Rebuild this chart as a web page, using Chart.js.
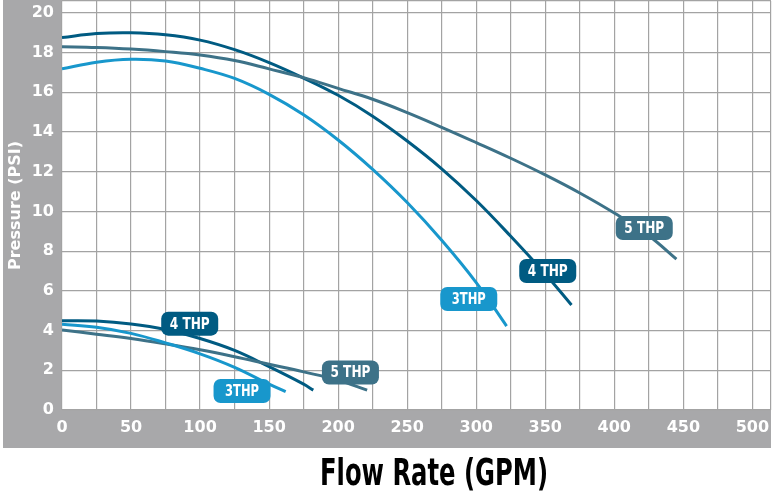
<!DOCTYPE html>
<html>
<head>
<meta charset="utf-8">
<script src="https://cdn.jsdelivr.net/npm/chart.js@4.4.1/dist/chart.umd.min.js"></script>
<style>
  html, body { margin: 0; padding: 0; background: #fff; }
  #wrap { width: 773px; height: 496px; }
</style>
</head>
<body>
<div id="wrap"><canvas id="pumpChart" width="773" height="496"></canvas></div>
<script>
// pump curves (flow in GPM, pressure in PSI)
const flow3High = [0, 25, 50, 75, 100, 125, 150, 175, 200, 225, 250, 275, 300, 322];
const psi3High  = [17.18, 17.52, 17.67, 17.58, 17.21, 16.7, 15.9, 14.87, 13.6, 12.12, 10.45, 8.55, 6.42, 4.23];

const flow4High = [0, 25, 50, 75, 100, 125, 150, 175, 200, 225, 250, 275, 300, 325, 350, 369];
const psi4High  = [18.76, 18.96, 19.0, 18.9, 18.63, 18.15, 17.5, 16.72, 15.85, 14.8, 13.55, 12.15, 10.55, 8.75, 6.85, 5.29];

const flow5High = [0, 25, 50, 75, 100, 125, 150, 175, 200, 225, 250, 275, 300, 325, 350, 375, 400, 425, 445];
const psi5High  = [18.3, 18.26, 18.18, 18.05, 17.88, 17.6, 17.18, 16.74, 16.2, 15.65, 14.98, 14.24, 13.47, 12.68, 11.84, 10.93, 9.92, 8.78, 7.6];

const flow3Low = [0, 25, 50, 75, 100, 125, 150, 162];
const psi3Low  = [4.32, 4.17, 3.86, 3.38, 2.83, 2.15, 1.3, 0.92];

const flow4Low = [0, 25, 50, 75, 100, 125, 150, 175, 182];
const psi4Low  = [4.5, 4.48, 4.33, 4.05, 3.6, 3.0, 2.18, 1.3, 1.0];

const flow5Low = [0, 25, 50, 75, 100, 125, 150, 175, 200, 221];
const psi5Low  = [4.03, 3.82, 3.6, 3.33, 3.03, 2.68, 2.3, 1.92, 1.5, 1.0];

// curve tags
const tagText = ['5 THP', '4 THP', '3THP', '4 THP', '3THP', '5 THP'];
const tagFlow = [421.7, 351.8, 294.6, 92.5, 130.4, 208.9];
const tagPsi  = [9.17, 7.0, 5.59, 4.35, 0.96, 1.89];

const flowTicks = [0, 50, 100, 150, 200, 250, 300, 350, 400, 450, 500];
const pressureTicks = [0, 2, 4, 6, 8, 10, 12, 14, 16, 18, 20];
const flowMax = 513.5;
const pressureMax = 20.6;

const c3 = '#1897cc';
const c4 = '#005b82';
const c5 = '#3d7288';
const band = '#a8a8aa';
const FONT = '"DejaVu Sans", sans-serif';

function pts(xs, ys) {
    return xs.map((x, i) => ({ x: x, y: ys[i] }));
}

function curve(label, xs, ys, color) {
    return {
        label: label,
        data: pts(xs, ys),
        borderColor: color,
        borderWidth: 3,
        pointRadius: 0,
        fill: false,
        tension: 0.4
    };
}

const tagColors = [c5, c4, c3, c4, c3, c5];

// squeeze text into a width, the picture uses a condensed face
function squeezeText(ctx, text, x, y, maxW) {
    const w = ctx.measureText(text).width;
    const k = w > maxW ? maxW / w : 1;
    ctx.save();
    ctx.translate(x, y);
    ctx.scale(k, 1);
    ctx.fillText(text, 0, 0);
    ctx.restore();
}

const bandsPlugin = {
    id: 'bands',
    beforeDraw(chart) {
        const ctx = chart.ctx;
        const a = chart.chartArea;
        ctx.save();
        ctx.fillStyle = band;
        ctx.fillRect(3, 0, a.left - 3, 448);
        ctx.fillRect(3, a.bottom, a.right - 3, 448 - a.bottom);
        ctx.restore();
    },
    afterDatasetsDraw(chart) {
        const ctx = chart.ctx;
        const xs = chart.scales.x, ys = chart.scales.y;
        ctx.save();
        ctx.font = 'condensed bold 15px ' + FONT;
        ctx.textAlign = 'center';
        ctx.textBaseline = 'middle';
        tagText.forEach((t, i) => {
            const cx = xs.getPixelForValue(tagFlow[i]);
            const cy = ys.getPixelForValue(tagPsi[i]);
            const w = 57, h = 24;
            ctx.fillStyle = tagColors[i];
            ctx.beginPath();
            ctx.roundRect(cx - w / 2, cy - h / 2, w, h, 7);
            ctx.fill();
            ctx.fillStyle = '#fff';
            squeezeText(ctx, t, cx, cy + 1, t.length > 4 ? 40 : 34);
        });
        ctx.restore();
    },
    afterDraw(chart) {
        const ctx = chart.ctx;
        ctx.save();
        ctx.fillStyle = '#000';
        ctx.font = 'condensed bold 38px ' + FONT;
        ctx.textAlign = 'center';
        ctx.textBaseline = 'alphabetic';
        squeezeText(ctx, 'Flow Rate (GPM)', 434, 485, 228);
        ctx.restore();
    }
};

let chart = new Chart(document.getElementById('pumpChart'), {
    type: 'line',
    data: {
        datasets: [
            curve('3 THP', flow3High, psi3High, c3),
            curve('5 THP', flow5High, psi5High, c5),
            curve('4 THP', flow4High, psi4High, c4),
            curve('3 THP low', flow3Low, psi3Low, c3),
            curve('5 THP low', flow5Low, psi5Low, c5),
            curve('4 THP low', flow4Low, psi4Low, c4)
        ]
    },
    options: {
        responsive: false,
        animation: false,
        layout: { padding: { top: 1, right: 2, left: 0, bottom: 0 } },
        plugins: {
            legend: { display: false },
            tooltip: { enabled: false }
        },
        scales: {
            x: {
                type: 'linear',
                min: 0,
                max: flowMax,
                afterFit: s => { s.height = 86; s.paddingLeft = 0; s.paddingRight = 0; },
                afterBuildTicks: s => {
                    const t = [];
                    for (let v = 0; v <= 500; v += 25) t.push({ value: v });
                    t.push({ value: flowMax });
                    s.ticks = t;
                },
                grid: { color: '#a3a3a3', lineWidth: 1.2, drawTicks: false },
                border: { display: false },
                ticks: {
                    color: '#fff',
                    padding: 8,
                    maxRotation: 0,
                    autoSkip: false,
                    font: { family: FONT, size: 16, weight: 'bold', style: 'condensed' },
                    callback: v => flowTicks.includes(v) ? String(v) : ''
                }
            },
            y: {
                type: 'linear',
                min: 0,
                max: pressureMax,
                afterFit: s => { s.width = 62; s.paddingTop = 0; s.paddingBottom = 0; },
                afterBuildTicks: s => {
                    const t = pressureTicks.map(v => ({ value: v }));
                    t.push({ value: pressureMax });
                    s.ticks = t;
                },
                grid: { color: '#a3a3a3', lineWidth: 1.2, drawTicks: false },
                border: { display: false },
                ticks: {
                    color: '#fff',
                    padding: 8,
                    autoSkip: false,
                    font: { family: FONT, size: 16, weight: 'bold', style: 'condensed' },
                    callback: v => pressureTicks.includes(v) ? String(v) : ''
                },
                title: {
                    display: true,
                    text: 'Pressure (PSI)',
                    color: '#fff',
                    padding: { top: 6, bottom: 0 },
                    font: { family: FONT, size: 16, weight: 'bold', style: 'condensed' }
                }
            }
        }
    },
    plugins: [bandsPlugin]
});
</script>
</body>
</html>
